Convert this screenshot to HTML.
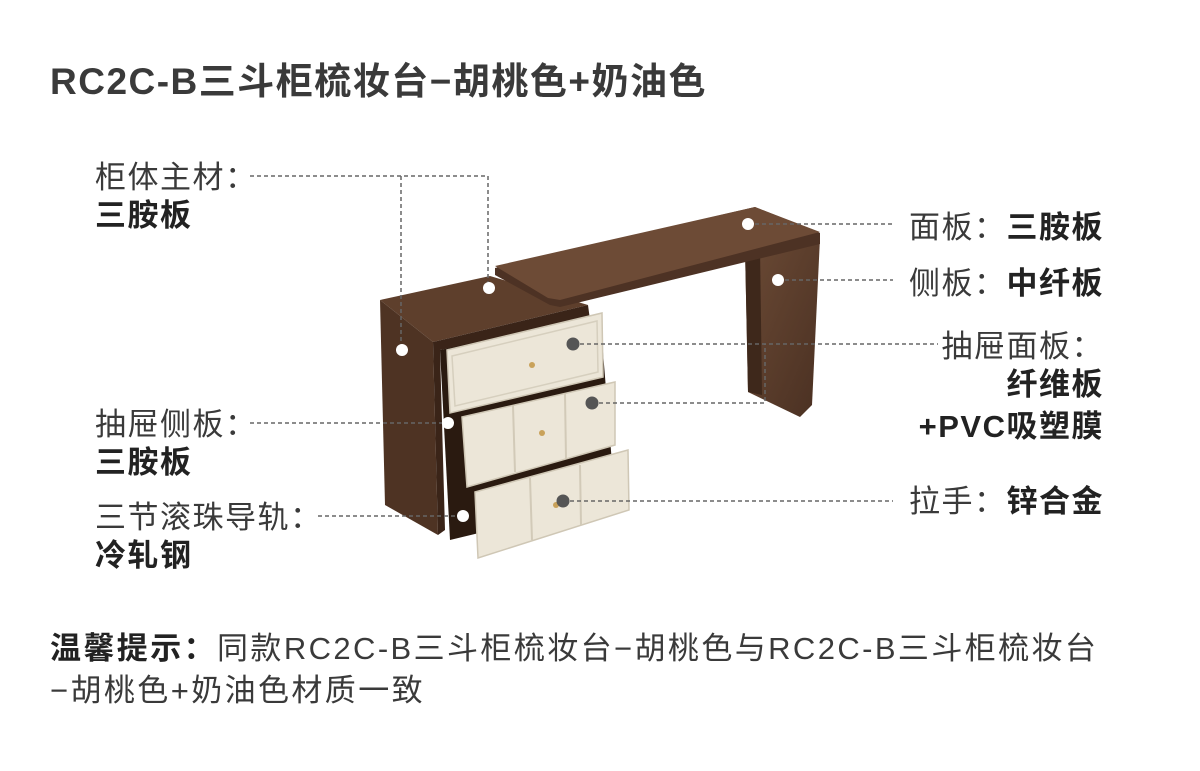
<!DOCTYPE html>
<html><head><meta charset="utf-8"><style>
html,body{margin:0;padding:0;background:#fff;}
body{width:1200px;height:771px;position:relative;overflow:hidden;font-family:"Liberation Sans","Noto Sans CJK SC",sans-serif;color:#3a3a3a;}
.t{position:absolute;white-space:nowrap;font-size:31px;line-height:36px;letter-spacing:1.5px;}
.b{font-weight:bold;color:#222;}
.c{font-family:"Noto Sans CJK SC",sans-serif;}
svg{position:absolute;left:0;top:0;}
</style></head><body>
<svg width="1200" height="771">
<defs>
<linearGradient id="w" x1="0" y1="0" x2="1" y2="1"><stop offset="0" stop-color="#6b4a35"/><stop offset="1" stop-color="#4a3022"/></linearGradient>
</defs>
<polygon points="380,300 490,276 588,305 433,342" fill="#5e3f2c"/>
<polygon points="380,300 433,342 438,535 385,505" fill="#4e3323"/>
<polygon points="433,342 588,305 590,320 440,350 445,530 438,535" fill="#3a2418"/>
<polygon points="440,350 600,315 615,500 450,540" fill="#2a1a10"/>
<polygon points="745,248 820,238 812,405 800,417 748,392" fill="url(#w)"/>
<polygon points="745,248 760,246 762,395 748,392" fill="#3e281b"/>
<polygon points="495,268 755,207 820,233 820,244 560,307 550,305 495,275" fill="#4d3224"/>
<polygon points="495,266 755,207 820,232 560,300 548,298" fill="#6d4b36"/>
<polygon points="447,350 602,313 603,377 450,413" fill="#ece6d8" stroke="#cfc7b5" stroke-width="1.5"/>
<polygon points="452,356 597,321 598,372 455,406" fill="none" stroke="#d6cfbe" stroke-width="1.5"/>
<polygon points="462,417 615,382 615,445 467,487" fill="#ece6d8" stroke="#cfc7b5" stroke-width="1.5"/>
<line x1="513" y1="406" x2="515" y2="472" stroke="#d2cab8" stroke-width="2"/>
<line x1="565" y1="394" x2="566" y2="459" stroke="#d2cab8" stroke-width="2"/>
<polygon points="475,492 628,450 629,510 478,558" fill="#ece6d8" stroke="#cfc7b5" stroke-width="1.5"/>
<line x1="530" y1="478" x2="532" y2="540" stroke="#d2cab8" stroke-width="2"/>
<line x1="580" y1="465" x2="581" y2="525" stroke="#d2cab8" stroke-width="2"/>
<circle cx="532" cy="365" r="3" fill="#c9a25a"/><circle cx="542" cy="433" r="3" fill="#c9a25a"/><circle cx="556" cy="505" r="3" fill="#c9a25a"/>
<g stroke="#666" stroke-width="1.5" stroke-dasharray="4,3" fill="none">
<polyline points="250,176 488,176 488,288"/>
<line x1="401" y1="176" x2="401" y2="350"/>
<line x1="748" y1="224" x2="893" y2="224"/>
<line x1="778" y1="280" x2="893" y2="280"/>
<line x1="573" y1="344" x2="938" y2="344"/>
<polyline points="592,403 765,403 765,344"/>
<line x1="250" y1="423" x2="448" y2="423"/>
<line x1="318" y1="516" x2="463" y2="516"/>
<line x1="563" y1="501" x2="893" y2="501"/>
</g>
<g fill="#fff"><circle cx="402" cy="350" r="6"/><circle cx="489" cy="288" r="6"/><circle cx="748" cy="224" r="6"/><circle cx="778" cy="280" r="6"/><circle cx="448" cy="423" r="6"/><circle cx="463" cy="516" r="6"/></g>
<g fill="#555"><circle cx="573" cy="344" r="6.5"/><circle cx="592" cy="403" r="6.5"/><circle cx="563" cy="501" r="6.5"/></g>
</svg>
<div class="t b" style="left:50px;top:61px;font-size:37px;line-height:42px;letter-spacing:1.5px;color:#3a3a3a;">RC2C-B三斗柜梳妆台−胡桃色+奶油色</div>
<div class="t" style="left:95px;top:157px;">柜体主材<span class="c">：</span></div>
<div class="t b" style="left:95px;top:198px;">三胺板</div>
<div class="t" style="left:95px;top:404px;">抽屉侧板<span class="c">：</span></div>
<div class="t b" style="left:95px;top:445px;">三胺板</div>
<div class="t" style="left:95px;top:497px;">三节滚珠导轨<span class="c">：</span></div>
<div class="t b" style="left:95px;top:538px;">冷轧钢</div>
<div class="t" style="right:96px;top:207px;">面板<span class="c">：</span><span class="b">三胺板</span></div>
<div class="t" style="right:96px;top:263px;">侧板<span class="c">：</span><span class="b">中纤板</span></div>
<div class="t" style="right:96px;top:326px;">抽屉面板<span class="c">：</span></div>
<div class="t b" style="right:96px;top:367px;">纤维板</div>
<div class="t b" style="right:96px;top:409px;">+PVC吸塑膜</div>
<div class="t" style="right:96px;top:481px;">拉手<span class="c">：</span><span class="b">锌合金</span></div>
<div class="t" style="left:50px;top:628px;letter-spacing:2.4px;"><span class="b">温馨提示<span class="c">：</span></span>同款RC2C-B三斗柜梳妆台−胡桃色与RC2C-B三斗柜梳妆台</div>
<div class="t" style="left:50px;top:673px;letter-spacing:2.4px;">−胡桃色+奶油色材质一致</div>
</body></html>
